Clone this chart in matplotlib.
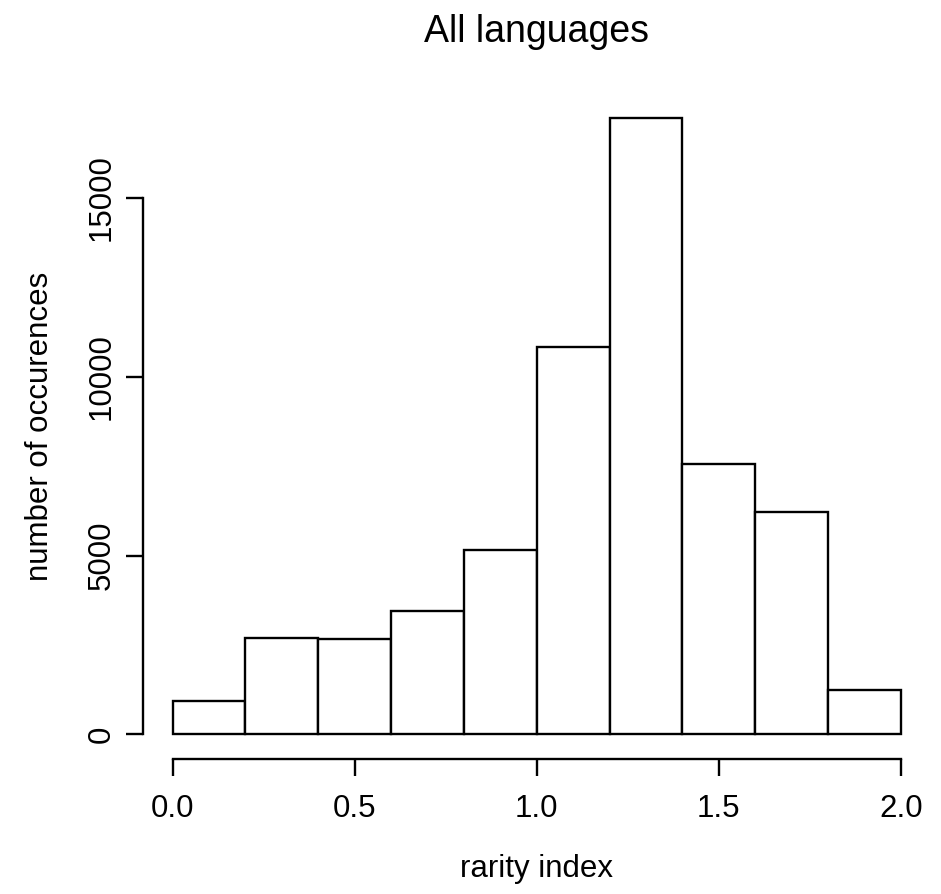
import matplotlib
matplotlib.use("Agg")
import matplotlib.pyplot as plt
import numpy as np

# Histogram of rarity index (bin edges and counts per bin)
bin_edges = [0.0, 0.2, 0.4, 0.6, 0.8, 1.0, 1.2, 1.4, 1.6, 1.8, 2.0]
counts = [925, 2695, 2667, 3451, 5169, 10831, 17240, 7548, 6205, 1231]
x_ticks = [0.0, 0.5, 1.0, 1.5, 2.0]
x_tick_labels = ["0.0", "0.5", "1.0", "1.5", "2.0"]
y_ticks = [0, 5000, 10000, 15000]
y_tick_labels = ["0", "5000", "10000", "15000"]

plt.rcParams["font.family"] = ["Liberation Sans", "DejaVu Sans"]

W, H = 941, 894
fig = plt.figure(figsize=(W / 100, H / 100), dpi=100)
left, right = 143.4 / W, 930 / W
bottom, top = 1 - 759 / H, 1 - 93.3 / H
ax = fig.add_axes([left, bottom, right - left, top - bottom])

edges = np.array(bin_edges)
ax.bar(edges[:-1], counts, width=np.diff(edges), align="edge",
       facecolor="white", edgecolor="black", linewidth=1.7)

# R-style 4% padding on both axes
xr = edges[-1] - edges[0]
ax.set_xlim(edges[0] - 0.04 * xr, edges[-1] + 0.04 * xr)
ymax = max(counts)
ax.set_ylim(-0.04 * ymax, ymax * 1.04)

for s in ("top", "right"):
    ax.spines[s].set_visible(False)
ax.spines["left"].set_bounds(y_ticks[0], y_ticks[-1])
ax.spines["bottom"].set_bounds(x_ticks[0], x_ticks[-1])
for s in ("left", "bottom"):
    ax.spines[s].set_linewidth(1.7)

ax.set_xticks(x_ticks)
ax.set_xticklabels(x_tick_labels)
ax.set_yticks(y_ticks)
ax.set_yticklabels(y_tick_labels, rotation=90, va="center")
ax.tick_params(axis="both", length=12, width=1.7, labelsize=22.5)
ax.tick_params(axis="x", pad=13)
ax.tick_params(axis="y", pad=7)

ax.set_xlabel("rarity index", fontsize=22.5, labelpad=22)
ax.set_ylabel("number of occurences", fontsize=22.5, labelpad=23)
fig.text(0.5 * (left + right), 1 - 32 / H, "All languages",
         ha="center", va="center", fontsize=27)

fig.savefig("out.png", dpi=100, facecolor="white")
